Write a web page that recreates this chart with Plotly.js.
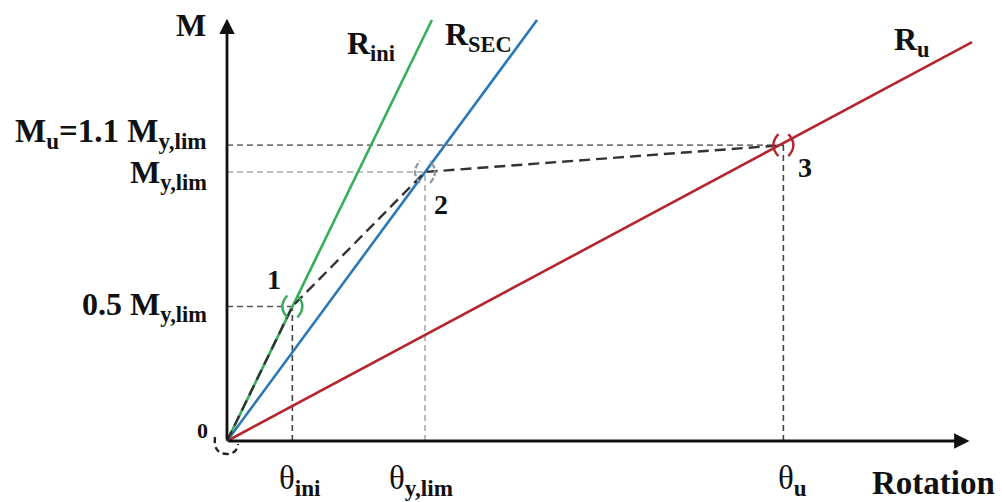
<!DOCTYPE html>
<html>
<head>
<meta charset="utf-8">
<script src="https://cdn.plot.ly/plotly-3.0.1.min.js"></script>
<style>html,body{margin:0;padding:0;background:#fff;}#chart{width:1002px;height:502px;}</style>
</head>
<body>
<div id="chart"></div>
<script>
// ---- data (rotation in units of theta_y,lim, moment in units of M_y,lim) ----
const pointIds   = ['0', '1', '2', '3'];
const thetaKeys  = [0, 0.33, 1.0, 2.81];      // 0, theta_ini, theta_y,lim, theta_u
const momentKeys = [0, 0.5, 1.0, 1.1];        // 0, 0.5 My, My, Mu = 1.1 My
const rIniTheta  = [0, 1.035];
const rIniMoment = [0, 1.565];
const rSecTheta  = [0, 1.566];
const rSecMoment = [0, 1.565];
const rUTheta    = [0, 3.763];
const rUMoment   = [0, 1.483];
const yLabels    = ['', '0.5 M<sub>y,lim</sub>', 'M<sub>y,lim</sub>', 'M<sub>u</sub>=1.1 M<sub>y,lim</sub>'];
const xLabels    = ['', 'θ<sub><b>ini</b></sub>', 'θ<sub><b>y,lim</b></sub>', 'θ<sub><b>u</b></sub>'];
const axisEnd    = {theta: 3.75, moment: 1.57};

const FONT = 'Liberation Serif, Times New Roman, serif';
const guideColH = ['#000', '#555', '#aaa', '#777'];
const guideColV = ['#000', '#444', '#aaa', '#444'];

const traces = [];
// guide lines
for (let i = 1; i < thetaKeys.length; i++) {
  traces.push({x: [0, thetaKeys[i]], y: [momentKeys[i], momentKeys[i]], mode: 'lines',
    line: {color: guideColH[i], width: 1.6, dash: '6px,4px'}, hoverinfo: 'skip'});
  traces.push({x: [thetaKeys[i], thetaKeys[i]], y: [0, momentKeys[i]], mode: 'lines',
    line: {color: guideColV[i], width: 1.6, dash: '6px,4px'}, hoverinfo: 'skip'});
}
// stiffness lines
traces.push({x: rUTheta, y: rUMoment, mode: 'lines', line: {color: '#b3262c', width: 2.6}});
traces.push({x: rSecTheta, y: rSecMoment, mode: 'lines', line: {color: '#2a78b6', width: 2.6}});
traces.push({x: rIniTheta, y: rIniMoment, mode: 'lines', line: {color: '#38ad5c', width: 2.6}});
// trilinear curve
traces.push({x: thetaKeys, y: momentKeys, mode: 'lines', line: {color: '#333', width: 2.4, dash: '11px,6px'}});

const ann = [];
function txt(x, y, text, size, opts) {
  ann.push(Object.assign({x: x, y: y, xref: 'x', yref: 'y', text: text, showarrow: false,
    font: {family: FONT, size: size, color: '#111'}}, opts || {}));
}
// axes arrows
ann.push({x: axisEnd.theta, y: 0, ax: 0, ay: 0, xref: 'x', yref: 'y', axref: 'x', ayref: 'y',
  text: '', showarrow: true, arrowhead: 2, arrowsize: 1.1, arrowwidth: 2.8, arrowcolor: '#111', standoff: 0});
ann.push({x: 0, y: axisEnd.moment, ax: 0, ay: 0, xref: 'x', yref: 'y', axref: 'x', ayref: 'y',
  text: '', showarrow: true, arrowhead: 2, arrowsize: 1.1, arrowwidth: 2.8, arrowcolor: '#111', standoff: 0});

// axis titles
txt(-0.095, 1.545, '<b>M</b>', 32, {xanchor: 'right'});
txt(3.566, -0.155, '<b>Rotation</b>', 33, {xanchor: 'center'});
// y labels
const yLabOff = [0, 0.0, -0.01, 0.045];
const ySize = [0, 32, 32, 33];
for (let i = 1; i < yLabels.length; i++) {
  txt(-0.093, momentKeys[i] + yLabOff[i], '<b>' + yLabels[i] + '</b>', ySize[i], {xanchor: 'right', yanchor: 'middle'});
}
// x labels
const xLabOff = [0, 0.04, -0.02, 0.045];
for (let i = 1; i < xLabels.length; i++) {
  txt(thetaKeys[i] + xLabOff[i], -0.145, xLabels[i], 33, {xanchor: 'center', yanchor: 'middle'});
}
// line names
txt(0.728, 1.47, '<b>R<sub>ini</sub></b>', 32);
txt(1.27, 1.505, '<b>R<sub>SEC</sub></b>', 32);
txt(3.46, 1.485, '<b>R<sub>u</sub></b>', 32);
// point ids
const idDx = [-0.122, -0.095, 0.08, 0.11];
const idDy = [0.04, 0.1, -0.12, -0.085];
const idSize = [22, 28, 28, 28];
for (let i = 0; i < pointIds.length; i++) {
  txt(thetaKeys[i] + idDx[i], momentKeys[i] + idDy[i], '<b>' + pointIds[i] + '</b>', idSize[i]);
}

// bracket marks around key points
const bracketCol = ['#222', '#38ad5c', '#8d9aa8', '#b3262c'];
const shapes = [];
for (let i = 0; i < thetaKeys.length; i++) {
  const common = {type: 'path', xref: 'x', yref: 'y', xsizemode: 'pixel', ysizemode: 'pixel',
    xanchor: thetaKeys[i], yanchor: momentKeys[i],
    line: {color: bracketCol[i], width: 2.4, dash: i === 0 ? '6px,4px' : (i === 2 ? '6px,2px' : 'solid')}};
  if (i === 0) {
    shapes.push(Object.assign({}, common, {path: 'M -12,4 Q -14,-13 0,-13 Q 10,-13 11,-3'}));
  } else {
    shapes.push(Object.assign({}, common, {path: 'M -5,-11 Q -15,0 -5,11'}));
    shapes.push(Object.assign({}, common, {path: 'M 5,-11 Q 15,0 5,11'}));
  }
}

const layout = {
  width: 1002, height: 502,
  margin: {l: 0, r: 0, t: 0, b: 0},
  paper_bgcolor: '#fff', plot_bgcolor: '#fff',
  showlegend: false,
  xaxis: {range: [-227 / 198, (1002 - 227) / 198], visible: false, fixedrange: true},
  yaxis: {range: [-(502 - 441) / 269, 441 / 269], visible: false, fixedrange: true},
  annotations: ann,
  shapes: shapes
};
Plotly.newPlot('chart', traces, layout, {staticPlot: true, displayModeBar: false});
</script>
</body>
</html>
